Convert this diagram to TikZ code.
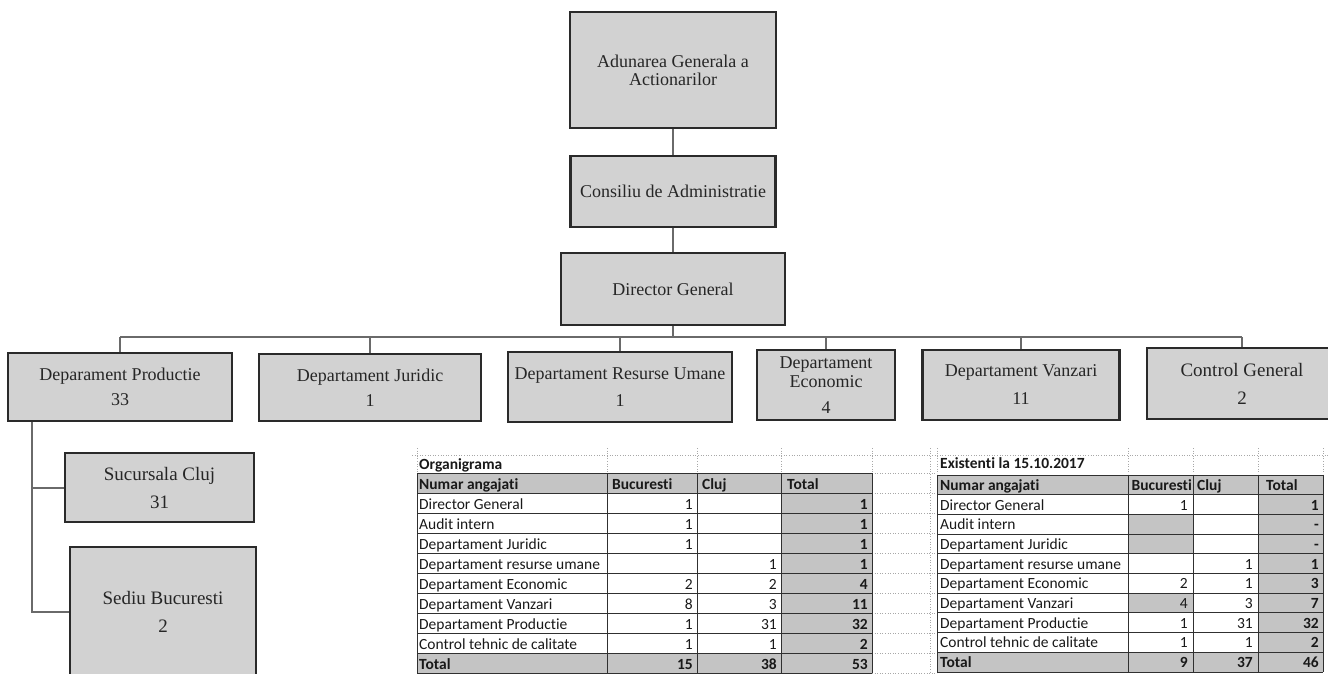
\documentclass[tikz,border=0pt]{standalone}
\usepackage{fontspec}
\setmainfont{Liberation Serif}
\newfontfamily\tabfont[RawFeature={-liga}]{Carlito}
\definecolor{boxfill}{HTML}{D2D2D2}
\definecolor{boxline}{HTML}{2A2A2A}
\definecolor{connc}{HTML}{6A6A6A}
\definecolor{cellgray}{HTML}{C4C4C4}
\definecolor{gridc}{HTML}{303030}
\definecolor{dotc}{HTML}{A8A8A8}
\begin{document}
\begin{tikzpicture}[x=1pt,y=-1pt,
  box/.style={draw=boxline, line width=2.5pt, fill=boxfill, align=center, inner sep=0pt,
    font=\fontsize{18}{18}\selectfont, text=black!85},
  bigbox/.style={box, font=\fontsize{19}{19}\selectfont},
  conn/.style={draw=connc, line width=2pt},
  grid/.style={draw=gridc, line width=0.9pt},
  xlgrid/.style={draw=dotc, line width=0.6pt, dotted},
  cell/.style={inner sep=0pt, text=black!90},
  tfont/.style={font=\tabfont\fontsize{15.5}{15.5}\selectfont},
  tbold/.style={font=\tabfont\bfseries\fontsize{15.5}{15.5}\selectfont}]
\useasboundingbox (0,0) rectangle (1328,674);
\clip (0,0) rectangle (1328,674);
\fill[white] (0,0) rectangle (1328,674);

% ---------- top chain ----------
\node[box, minimum width=206pt, minimum height=116pt] (aga) at (673,70) {Adunarea Generala a\\Actionarilor};
\node[box, minimum width=205pt, minimum height=71pt] (cons) at (673,191.5) {Consiliu de Administratie};
\node[box, minimum width=224pt, minimum height=72pt] (dir) at (673,289) {Director General};

% ---------- departments ----------
\node[box, minimum width=224pt, minimum height=68pt] (prod) at (120,387) {Deparament Productie\\[7pt]33};
\node[box, minimum width=222pt, minimum height=67pt] (jur) at (370,387.5) {Departament Juridic\\[7pt]1};
\node[box, minimum width=224pt, minimum height=70pt] (rum) at (620,387) {Departament Resurse Umane\\[9pt]1};
\node[box, minimum width=138pt, minimum height=70pt] (eco) at (826,385) {Departament\\[1pt]Economic\\[8pt]4};
\node[box, minimum width=197pt, minimum height=70pt] (van) at (1021,385) {Departament Vanzari\\[10pt]11};
\node[bigbox, minimum width=190pt, minimum height=71pt] (ctrl) at (1242,383.5) {Control General\\[9pt]2};

\node[bigbox, minimum width=189pt, minimum height=69pt] (cluj) at (159.5,487.5) {Sucursala Cluj\\[9pt]31};
\node[bigbox, minimum width=186pt, minimum height=130pt] (sed) at (163,612) {Sediu Bucuresti\\[9pt]2};

% ---------- connectors ----------
\coordinate (bar) at (673,337);
\draw[conn] (aga) -- (cons);
\draw[conn] (cons) -- (dir);
\draw[conn] (dir.south) -- (bar);
\draw[conn] (prod.north |- bar) -- (ctrl.north |- bar);
\foreach \n in {prod,jur,rum,eco,van,ctrl}
  \draw[conn] (\n.north |- bar) -- (\n.north);
\path (prod.south west) ++(25,0) coordinate (lb);
\draw[conn] (lb) |- (sed.west);
\draw[conn] (lb |- cluj.west) -- (cluj.west);

% ---------- spreadsheet gridlines (faint) ----------
\draw[xlgrid] (412,455) -- (1328,455);
\foreach \x in {417,607,697,781,872,937,1128,1193,1258,1323}
  \draw[xlgrid] (\x,448) -- (\x,474);
\foreach \i in {0,...,10}
  \draw[xlgrid] (872,{473+20*\i}) -- (937,{473+20*\i});
\draw[xlgrid] (930,448) -- (930,674);

% ---------- table 1 ----------
\fill[cellgray] (417,473) rectangle (872,493);
\fill[cellgray] (781,493) rectangle (872,653);
\fill[cellgray] (417,653) rectangle (872,673);
\foreach \i in {0,...,10}
  \draw[grid] (417,{473+20*\i}) -- (872,{473+20*\i});
\foreach \x in {417,607,697,781,872}
  \draw[grid] (\x,473) -- (\x,673);
\node[cell, tbold, anchor=base west] (t1title) at (419,469) {Organigrama};
\node[cell, tbold, anchor=base west] (t1h0) at (419,489) {Numar angajati};
\node[cell, tbold, anchor=base west] (t1h1) at (612,489) {Bucuresti};
\node[cell, tbold, anchor=base west] (t1h2) at (702,489) {Cluj};
\node[cell, tbold, anchor=base west] (t1h3) at (787,489) {Total};
\foreach \lab/\b/\c/\t [count=\i] in {Director General/1//1, Audit intern/1//1,
    Departament Juridic/1//1, Departament resurse umane//1/1,
    Departament Economic/2/2/4, Departament Vanzari/8/3/11,
    Departament Productie/1/31/32, Control tehnic de calitate/1/1/2}{
  \node[cell, tfont, anchor=base west] (t1a\i) at (419,{489+20*\i}) {\lab};
  \node[cell, tfont, anchor=base east] (t1b\i) at (693,{489+20*\i}) {\b};
  \node[cell, tfont, anchor=base east] (t1c\i) at (777,{489+20*\i}) {\c};
  \node[cell, tbold, anchor=base east] (t1d\i) at (868,{489+20*\i}) {\t};
}
\node[cell, tbold, anchor=base west] (t1ta) at (419,669) {Total};
\node[cell, tbold, anchor=base east] (t1tb) at (693,669) {15};
\node[cell, tbold, anchor=base east] (t1tc) at (777,669) {38};
\node[cell, tbold, anchor=base east] (t1td) at (868,669) {53};

% ---------- table 2 ----------
\def\dy{19.7}
\fill[cellgray] (937,475) rectangle (1323,{475+\dy});
\fill[cellgray] (1258,{475+\dy}) rectangle (1323,{475+9*\dy});
\fill[cellgray] (937,{475+9*\dy}) rectangle (1323,{475+10*\dy});
\fill[cellgray] (1128,{475+2*\dy}) rectangle (1193,{475+4*\dy});
\fill[cellgray] (1128,{475+6*\dy}) rectangle (1193,{475+7*\dy});
\foreach \i in {0,...,10}
  \draw[grid] (937,{475+\dy*\i}) -- (1323,{475+\dy*\i});
\foreach \x in {937,1128,1193,1258,1323}
  \draw[grid] (\x,475) -- (\x,{475+10*\dy});
\node[cell, tbold, anchor=base west] (t2title) at (940,468) {Existenti la 15.10.2017};
\node[cell, tbold, anchor=base west] (t2h0) at (940,{475+0.5*\dy+5.5}) {Numar angajati};
\node[cell, tbold, anchor=base east] (t2h1) at (1192,{475+0.5*\dy+5.5}) {Bucuresti};
\node[cell, tbold, anchor=base west] (t2h2) at (1197,{475+0.5*\dy+5.5}) {Cluj};
\node[cell, tbold, anchor=base west] (t2h3) at (1266,{475+0.5*\dy+5.5}) {Total};
\foreach \lab/\b/\c/\t [count=\i] in {Director General/1//1, Audit intern///-,
    Departament Juridic///-, Departament resurse umane//1/1,
    Departament Economic/2/1/3, Departament Vanzari/4/3/7,
    Departament Productie/1/31/32, Control tehnic de calitate/1/1/2}{
  \node[cell, tfont, anchor=base west] (t2a\i) at (940,{475+\dy*(\i+0.5)+5.5}) {\lab};
  \node[cell, tfont, anchor=base east] (t2b\i) at (1188,{475+\dy*(\i+0.5)+5.5}) {\b};
  \node[cell, tfont, anchor=base east] (t2c\i) at (1253,{475+\dy*(\i+0.5)+5.5}) {\c};
  \node[cell, tbold, anchor=base east] (t2d\i) at (1319,{475+\dy*(\i+0.5)+5.5}) {\t};
}
\node[cell, tbold, anchor=base west] (t2ta) at (940,{475+9.5*\dy+5.5}) {Total};
\node[cell, tbold, anchor=base east] (t2tb) at (1188,{475+9.5*\dy+5.5}) {9};
\node[cell, tbold, anchor=base east] (t2tc) at (1253,{475+9.5*\dy+5.5}) {37};
\node[cell, tbold, anchor=base east] (t2td) at (1319,{475+9.5*\dy+5.5}) {46};
\end{tikzpicture}
\end{document}
